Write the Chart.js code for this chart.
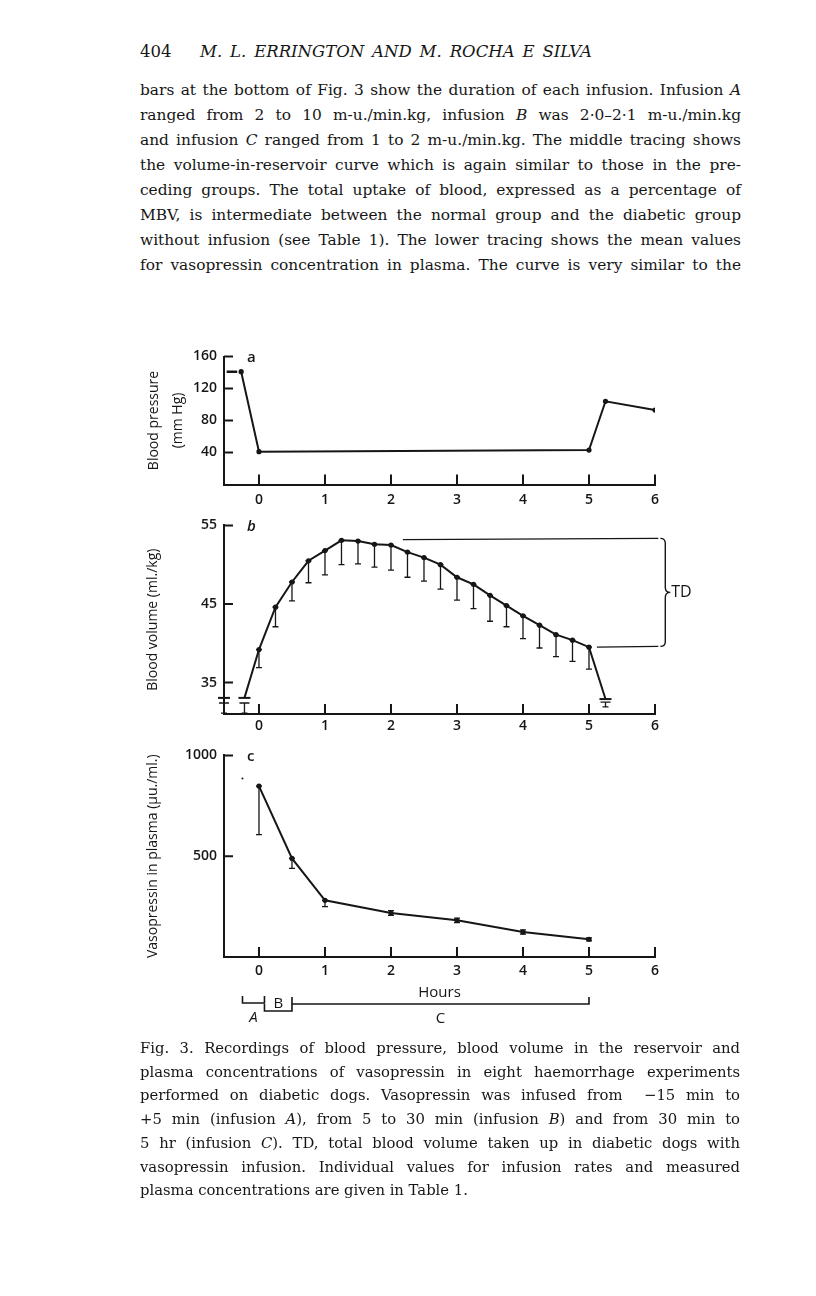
<!DOCTYPE html>
<html>
<head>
<meta charset="utf-8">
<script src="https://cdn.jsdelivr.net/npm/chart.js@4.4.1/dist/chart.umd.min.js"></script>
<style>
  body { margin: 0; background: #fff; width: 816px; height: 1296px; position: relative; overflow: hidden; color: #161616; font-family: "DejaVu Serif", serif; }
  .hdr { position: absolute; top: 40px; left: 140px; width: 452px; font-size: 16.5px; line-height: 24px; }
  .hdr .pg { position: absolute; left: 0; }
  .hdr .who { position: absolute; left: 60px; width: 392px; font-style: italic; text-align: justify; text-align-last: justify; white-space: nowrap; }
  .txt { position: absolute; left: 140px; top: 78px; width: 601px; font-size: 15.4px; line-height: 25px; }
  .cap { position: absolute; left: 140px; top: 1036px; width: 600px; font-size: 14.8px; line-height: 23.7px; }
  .txt div, .cap div { white-space: nowrap; text-align: justify; text-align-last: justify; }
  .cap div.last { text-align-last: left; }
  canvas { position: absolute; }
</style>
</head>
<body>
<div class="hdr"><span class="pg">404</span><span class="who">M. L. ERRINGTON AND M. ROCHA E SILVA</span></div>
<div class="txt">
  <div>bars at the bottom of Fig. 3 show the duration of each infusion. Infusion <i>A</i></div>
  <div>ranged from 2 to 10 m-u./min.kg, infusion <i>B</i> was 2·0–2·1 m-u./min.kg</div>
  <div>and infusion <i>C</i> ranged from 1 to 2 m-u./min.kg. The middle tracing shows</div>
  <div>the volume-in-reservoir curve which is again similar to those in the pre-</div>
  <div>ceding groups. The total uptake of blood, expressed as a percentage of</div>
  <div>MBV, is intermediate between the normal group and the diabetic group</div>
  <div>without infusion (see Table 1). The lower tracing shows the mean values</div>
  <div>for vasopressin concentration in plasma. The curve is very similar to the</div>
</div>

<canvas id="bpChart" width="540" height="170" style="left:140px;top:340px"></canvas>
<canvas id="bvChart" width="560" height="225" style="left:140px;top:510px"></canvas>
<canvas id="vpChart" width="540" height="300" style="left:140px;top:740px"></canvas>

<div class="cap">
  <div>Fig. 3. Recordings of blood pressure, blood volume in the reservoir and</div>
  <div>plasma concentrations of vasopressin in eight haemorrhage experiments</div>
  <div>performed on diabetic dogs. Vasopressin was infused from &nbsp;−15 min to</div>
  <div>+5 min (infusion <i>A</i>), from 5 to 30 min (infusion <i>B</i>) and from 30 min to</div>
  <div>5 hr (infusion <i>C</i>). TD, total blood volume taken up in diabetic dogs with</div>
  <div>vasopressin infusion. Individual values for infusion rates and measured</div>
  <div class="last">plasma concentrations are given in Table 1.</div>
</div>

<script>
// shared x axis (hours)
const hourTicks = [0, 1, 2, 3, 4, 5, 6];

// a: blood pressure (mm Hg)
const bpTicks = [40, 80, 120, 160];
const bpControlHours = [-0.49, -0.33];
const bpControlValues = [141, 141];
const bpHours = [-0.27, 0, 5, 5.25, 6];
const bpValues = [141, 41, 43, 104, 93];

// b: blood volume in reservoir (ml./kg)
const bvTicks = [35, 45, 55];
const bvHours = [-0.22, 0, 0.25, 0.5, 0.75, 1, 1.25, 1.5, 1.75, 2, 2.25, 2.5, 2.75,
                 3, 3.25, 3.5, 3.75, 4, 4.25, 4.5, 4.75, 5, 5.25];
const bvValues = [33.05, 39.2, 44.6, 47.8, 50.5, 51.8, 53.1, 53.0, 52.6, 52.5, 51.6, 50.9, 50.0,
                  48.4, 47.5, 46.1, 44.8, 43.5, 42.3, 41.1, 40.4, 39.5, 32.9];
const bvLower = [null, 36.9, 42.1, 45.4, 47.7, 48.7, 50.0, 50.1, 49.7, 49.3, 48.4, 47.9, 46.9,
                 45.5, 44.4, 42.8, 42.1, 40.6, 39.4, 38.3, 37.7, 36.7, null];
// the short "T" marks at the start and end of the bleed
const bvBaseHours = [-0.53, -0.22, 5.25];
const bvBaseValues = [33.05, 33.05, 32.9];
const bvBaseTop = [32.4, 32.4, 32.5];
const bvBaseLow = [31.1, 31.1, 31.9];
// TD bracket lines
const tdTopHours = [2.18, 6.05];
const tdTopValues = [53.2, 53.35];
const tdLowHours = [5.12, 6.05];
const tdLowValues = [39.5, 39.6];

// c: vasopressin in plasma (µu./ml.)
const vpTicks = [500, 1000];
const vpHours = [0, 0.5, 1, 2, 3, 4, 5];
const vpValues = [848, 489, 281, 218, 182, 124, 88];
const vpLower = [607, 440, 250, 206, 171, 113, 80];
const vpUpper = [848, 489, 281, 230, 193, 135, 95];
const vpStrayHours = [-0.25];
const vpStrayValues = [885];

// infusion bars under the time axis
const infusionNames = ['A', 'B', 'C'];
const infusionStart = [-0.25, 0.083, 0.5];
const infusionEnd = [0.083, 0.5, 5];

const ink = '#161616';
Chart.defaults.font.family = '"Open Sans", sans-serif';
Chart.defaults.color = ink;

function pts(xs, ys) {
  return xs.map((x, i) => ({x: x, y: ys[i]}));
}

// tick marks pointing into the plot
const inwardTicks = {
  id: 'inwardTicks',
  afterDatasetsDraw(chart) {
    const {ctx, chartArea} = chart;
    const x = chart.scales.x, y = chart.scales.y;
    ctx.save();
    ctx.strokeStyle = ink;
    ctx.lineWidth = 2;
    ctx.beginPath();
    x.ticks.forEach(t => {
      const px = x.getPixelForValue(t.value);
      ctx.moveTo(px, chartArea.bottom);
      ctx.lineTo(px, chartArea.bottom - 10);
    });
    y.ticks.forEach(t => {
      const py = y.getPixelForValue(t.value);
      ctx.moveTo(chartArea.left, py);
      ctx.lineTo(chartArea.left + 9, py);
    });
    ctx.stroke();
    ctx.restore();
  }
};

// vertical error bars with small caps (dataset.errLow / dataset.errHigh)
const errorBars = {
  id: 'errorBars',
  beforeDatasetsDraw(chart) {
    const {ctx} = chart;
    const x = chart.scales.x, y = chart.scales.y;
    ctx.save();
    ctx.strokeStyle = ink;
    ctx.lineWidth = 1.3;
    chart.data.datasets.forEach(ds => {
      if (!ds.errLow) return;
      const cap = ds.capHalf || 3;
      ds.data.forEach((p, i) => {
        const lo = ds.errLow[i];
        if (lo == null) return;
        const hi = ds.errHigh ? ds.errHigh[i] : p.y;
        const px = x.getPixelForValue(p.x);
        const pLo = y.getPixelForValue(lo), pHi = y.getPixelForValue(hi);
        ctx.beginPath();
        ctx.moveTo(px, pHi); ctx.lineTo(px, pLo);
        ctx.moveTo(px - 3, pLo); ctx.lineTo(px + 3, pLo);
        ctx.moveTo(px - cap, pHi); ctx.lineTo(px + cap, pHi);
        ctx.stroke();
      });
    });
    ctx.restore();
  }
};

// panel letter in the top left corner
const panelLetter = {
  id: 'panelLetter',
  afterDraw(chart, args, opts) {
    const {ctx, chartArea} = chart;
    ctx.save();
    ctx.fillStyle = ink;
    ctx.font = (opts.italic ? 'italic ' : '') + '600 15px "Open Sans", sans-serif';
    ctx.textBaseline = 'middle';
    ctx.fillText(opts.text, chartArea.left + 23, chartArea.top + 1);
    ctx.restore();
  }
};

// brace and TD label on the right of panel b
const tdBrace = {
  id: 'tdBrace',
  afterDraw(chart) {
    const {ctx} = chart;
    const x = chart.scales.x, y = chart.scales.y;
    const x0 = x.getPixelForValue(tdTopHours[1]) + 2;
    const yT = y.getPixelForValue(tdTopValues[1]);
    const yB = y.getPixelForValue(tdLowValues[1]);
    const yM = (yT + yB) / 2;
    const w = 5;
    ctx.save();
    ctx.strokeStyle = ink;
    ctx.lineWidth = 1.4;
    ctx.beginPath();
    ctx.moveTo(x0, yT);
    ctx.quadraticCurveTo(x0 + w, yT, x0 + w, yT + w);
    ctx.lineTo(x0 + w, yM - w);
    ctx.quadraticCurveTo(x0 + w, yM, x0 + 2 * w, yM);
    ctx.quadraticCurveTo(x0 + w, yM, x0 + w, yM + w);
    ctx.lineTo(x0 + w, yB - w);
    ctx.quadraticCurveTo(x0 + w, yB, x0, yB);
    ctx.stroke();
    ctx.fillStyle = ink;
    ctx.font = '16px "Open Sans", sans-serif';
    ctx.textBaseline = 'middle';
    ctx.fillText('TD', x0 + 2 * w + 1, yM);
    ctx.restore();
  }
};

// infusion duration bars A, B, C below panel c
const infusionBars = {
  id: 'infusionBars',
  afterDraw(chart) {
    const {ctx, chartArea} = chart;
    const x = chart.scales.x;
    const lineY = [46, 54, 47];
    const labelY = [61, 47, 62];
    ctx.save();
    ctx.strokeStyle = ink;
    ctx.fillStyle = ink;
    ctx.lineWidth = 1.6;
    ctx.textAlign = 'center';
    ctx.textBaseline = 'middle';
    infusionNames.forEach((name, i) => {
      const x1 = x.getPixelForValue(infusionStart[i]);
      const x2 = x.getPixelForValue(infusionEnd[i]);
      const ly = chartArea.bottom + lineY[i];
      ctx.beginPath();
      ctx.moveTo(x1, ly - 7); ctx.lineTo(x1, ly); ctx.lineTo(x2, ly); ctx.lineTo(x2, ly - 7);
      ctx.stroke();
      ctx.font = (i === 0 ? 'italic ' : '') + '15px "Open Sans", sans-serif';
      ctx.fillText(name, (x1 + x2) / 2, chartArea.bottom + labelY[i]);
    });
    ctx.restore();
  }
};

function panelOptions(cfg) {
  return {
    responsive: false,
    animation: false,
    layout: {padding: cfg.padding},
    plugins: {
      legend: {display: false},
      tooltip: {enabled: false},
      panelLetter: {text: cfg.letter, italic: cfg.italicLetter}
    },
    scales: {
      x: {
        type: 'linear',
        min: -0.53,
        max: 6,
        afterBuildTicks: s => { s.ticks = hourTicks.map(v => ({value: v})); },
        afterFit: s => { s.height = cfg.xHeight; },
        grid: {display: false, drawTicks: false},
        border: {display: true, color: ink, width: 2},
        ticks: {padding: cfg.xPad, color: ink, font: {size: 14, weight: '600'}, callback: v => String(v)},
        title: cfg.xTitle || {display: false}
      },
      y: {
        type: 'linear',
        min: cfg.yMin,
        max: cfg.yMax,
        afterBuildTicks: s => { s.ticks = cfg.yTicks.map(v => ({value: v})); },
        afterFit: s => { s.width = 84; },
        grid: {display: false, drawTicks: false},
        border: {display: true, color: ink, width: 2},
        ticks: {padding: 7, color: ink, font: {size: 14, weight: '600'}, callback: v => String(v)},
        title: {
          display: true,
          text: cfg.yTitle,
          color: ink,
          font: {size: 14, lineHeight: cfg.yTitleLH},
          padding: {top: cfg.yTitlePad, bottom: 0}
        }
      }
    }
  };
}

const lineStyle = {
  showLine: true,
  borderColor: ink,
  borderWidth: 2,
  pointRadius: 2.6,
  pointBackgroundColor: ink,
  pointBorderWidth: 0,
  tension: 0
};

new Chart('bpChart', {
  type: 'scatter',
  data: {
    datasets: [
      Object.assign({}, lineStyle, {data: pts(bpControlHours, bpControlValues), pointRadius: 0, borderWidth: 2.4}),
      Object.assign({}, lineStyle, {data: pts(bpHours, bpValues)})
    ]
  },
  options: panelOptions({
    padding: {left: 0, top: 16.5, right: 25, bottom: 0},
    xHeight: 25.5, xPad: 7,
    yMin: 0, yMax: 160, yTicks: bpTicks,
    yTitle: ['Blood pressure', '(mm Hg)'], yTitleLH: 1.7, yTitlePad: 2,
    letter: 'a', italicLetter: false
  }),
  plugins: [inwardTicks, panelLetter]
});

new Chart('bvChart', {
  type: 'scatter',
  data: {
    datasets: [
      Object.assign({}, lineStyle, {
        data: pts(bvHours, bvValues),
        errLow: bvLower,
        pointRadius: bvHours.map((h, i) => (i === 0 || i === bvHours.length - 1) ? 0 : 2.6)
      }),
      {
        type: 'scatter',
        data: pts(bvBaseHours, bvBaseValues),
        errLow: bvBaseLow,
        errHigh: bvBaseTop,
        capHalf: 5,
        pointStyle: 'line',
        pointRadius: 6,
        pointBorderColor: ink,
        pointBorderWidth: 2,
        clip: false
      },
      Object.assign({}, lineStyle, {data: pts(tdTopHours, tdTopValues), pointRadius: 0, borderWidth: 1.3, clip: false}),
      Object.assign({}, lineStyle, {data: pts(tdLowHours, tdLowValues), pointRadius: 0, borderWidth: 1.3, clip: false})
    ]
  },
  options: panelOptions({
    padding: {left: 0, top: 10, right: 45, bottom: 0},
    xHeight: 21, xPad: 4,
    yMin: 31, yMax: 55, yTicks: bvTicks,
    yTitle: 'Blood volume (ml./kg)', yTitleLH: 1.2, yTitlePad: 4.6,
    letter: 'b', italicLetter: true
  }),
  plugins: [inwardTicks, errorBars, panelLetter, tdBrace]
});

new Chart('vpChart', {
  type: 'scatter',
  data: {
    datasets: [
      Object.assign({}, lineStyle, {data: pts(vpHours, vpValues), errLow: vpLower, errHigh: vpUpper}),
      Object.assign({}, lineStyle, {data: pts(vpStrayHours, vpStrayValues), showLine: false, pointRadius: 1})
    ]
  },
  options: panelOptions({
    padding: {left: 0, top: 15, right: 25, bottom: 38},
    xHeight: 45, xPad: 6,
    yMin: 0, yMax: 1000, yTicks: vpTicks,
    yTitle: 'Vasopressin in plasma (µu./ml.)', yTitleLH: 1.2, yTitlePad: 4.6,
    letter: 'c', italicLetter: false,
    xTitle: {display: true, text: 'Hours', color: ink, font: {size: 15}, padding: {top: 0, bottom: 0}}
  }),
  plugins: [inwardTicks, errorBars, panelLetter, infusionBars]
});
</script>
</body>
</html>
